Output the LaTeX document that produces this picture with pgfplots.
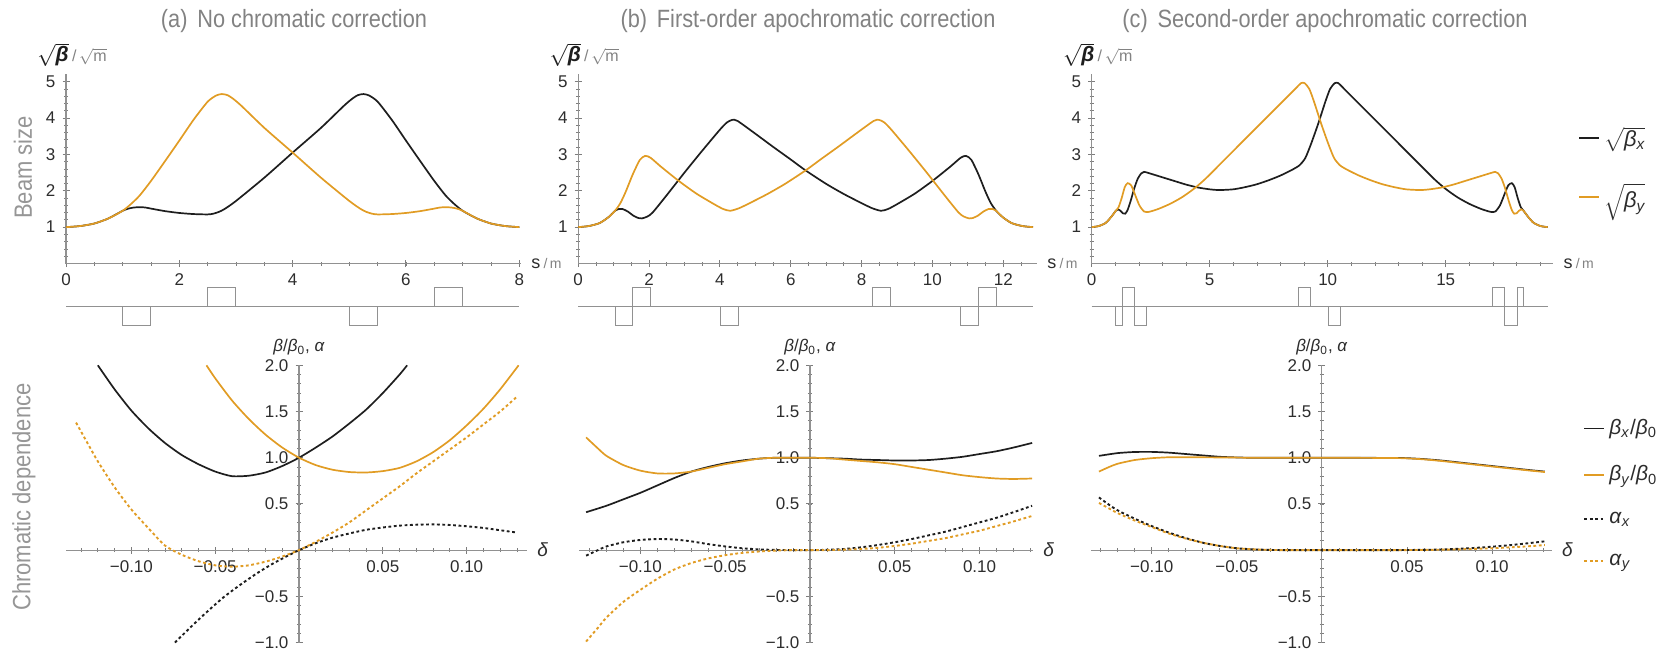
\documentclass[border=0pt]{standalone}
\usepackage{fontspec}
\setmainfont{Liberation Sans}
\usepackage{graphicx}
\usepackage{pgfplots}
\pgfplotsset{compat=1.18}
\definecolor{myorange}{RGB}{225,156,36}
\definecolor{myblack}{RGB}{30,30,30}
\definecolor{axgray}{RGB}{145,145,145}
\definecolor{tickgray}{RGB}{125,125,125}
\definecolor{titgray}{RGB}{130,130,130}
\definecolor{sidegray}{RGB}{150,150,150}
\definecolor{ticklab}{RGB}{45,45,45}
\newcommand\fs[1]{\fontsize{#1}{#1}\selectfont}
\pgfplotsset{
  common/.style={scale only axis, clip=false,
    axis line style={draw=axgray, line width=0.55pt},
    tick align=inside,
    major tick style={draw=tickgray, line width=0.5pt},
    minor tick style={draw=tickgray, line width=0.4pt},
    major tick length=3.5pt, minor tick length=2pt,
    ticklabel style={font=\fs{8.5}, text=ticklab},
    /pgf/number format/assume math mode=true},
  topax/.style={common, height=94.55pt, ymin=0, ymax=5.2, axis lines=left,
    x axis line style={-}, y axis line style={-},
    ytick={1,2,3,4,5}, minor ytick={0.2,0.4,...,5.0}},
  latax/.style={scale only axis, height=19.2pt, ymin=-1, ymax=1, hide axis, clip=false},
  botax/.style={common, height=138.6pt, ymin=-1, ymax=2, axis lines=middle,
    x axis line style={-}, y axis line style={-},
    xtick={-0.1,-0.05,0.05,0.1}, xticklabels={−0.10,−0.05,0.05,0.10},
    minor xtick={-0.13,-0.12,...,0.131},
    ytick={-1,-0.5,0.5,1,1.5,2}, yticklabels={−1.0,−0.5,0.5,1.0,1.5,2.0},
    minor ytick={-0.9,-0.8,...,1.95}},
  lat/.style={draw=axgray, line width=0.5pt, line join=miter},
  bx/.style={myblack, line width=0.85pt, smooth, tension=0.4},
  by/.style={myorange, line width=0.85pt, smooth, tension=0.4},
  ax/.style={myblack, line width=0.95pt, dash pattern=on 1.4pt off 1.3pt, smooth, tension=0.4},
  ay/.style={myorange, line width=0.95pt, dash pattern=on 1.4pt off 1.3pt, smooth, tension=0.4},
}
\newcommand\sqbeta{{\color{myblack}\fs{10.5}$\sqrt{\mbox{\bfseries\itshape β}}$}\,{\color{titgray}\fs{8}/\,$\sqrt{\mbox{m}}$}}
\newcommand\slabel{{\color{ticklab}\fs{9}s}\,{\color{titgray}\fs{7}/\,m}}
\newcommand\balabel{{\fs{8.5}\color{ticklab}\textit{β}/\textit{β}\textsubscript{0}, \textit{α}}}
\newcommand\dlabel{{\fs{9.5}\color{ticklab}\textit{δ}}}
\begin{document}
\begin{tikzpicture}
\path[use as bounding box] (0,0) rectangle (836pt,-325pt);
% titles
\node[text=titgray, font=\fs{12.5}] at (147pt,-10.5pt) {\scalebox{0.87}[1]{(a)\hspace{0.45em}No chromatic correction}};
\node[text=titgray, font=\fs{12.5}] at (404pt,-10.5pt) {\scalebox{0.87}[1]{(b)\hspace{0.45em}First-order apochromatic correction}};
\node[text=titgray, font=\fs{12.5}] at (662.5pt,-10.5pt) {\scalebox{0.87}[1]{(c)\hspace{0.45em}Second-order apochromatic correction}};
\node[rotate=90, text=sidegray, font=\fs{12.5}] at (11.5pt,-83.75pt) {\scalebox{0.88}[1]{Beam size}};
\node[rotate=90, text=sidegray, font=\fs{12.5}] at (12pt,-248.5pt) {\scalebox{0.88}[1]{Chromatic dependence}};

% ---------------- (a) top
\begin{axis}[topax, at={(33pt,-131.75pt)}, anchor=south west, width=227.5pt,
  xmin=0, xmax=8.03, xtick={0,2,4,6,8}, minor xtick={0.5,1,...,8}]
\addplot[bx] coordinates {(0,1.00) (0.25,1.03) (0.5,1.1) (0.75,1.24) (1.0,1.45) (1.1,1.51) (1.2,1.54) (1.3,1.55) (1.4,1.54) (1.5,1.51) (1.75,1.44) (2.0,1.39) (2.25,1.36) (2.5,1.35) (2.6,1.37) (2.7,1.42) (2.8,1.5) (3.0,1.72) (3.5,2.36) (4.0,3.05) (4.5,3.73) (4.9,4.33) (5.05,4.53) (5.15,4.63) (5.25,4.66) (5.35,4.62) (5.5,4.45) (5.75,3.95) (6.0,3.38) (6.25,2.82) (6.5,2.27) (6.7,1.87) (6.85,1.64) (7.0,1.45) (7.25,1.24) (7.5,1.1) (7.75,1.03) (8.0,1.00)};
\addplot[by] coordinates {(0,1.00) (0.25,1.03) (0.5,1.1) (0.75,1.24) (1.0,1.45) (1.15,1.64) (1.3,1.87) (1.5,2.27) (1.75,2.82) (2.0,3.38) (2.25,3.95) (2.5,4.45) (2.65,4.62) (2.75,4.66) (2.85,4.63) (2.95,4.53) (3.1,4.33) (3.5,3.73) (4.0,3.05) (4.5,2.36) (5.0,1.72) (5.2,1.5) (5.3,1.42) (5.4,1.37) (5.5,1.35) (5.75,1.36) (6.0,1.39) (6.25,1.44) (6.5,1.51) (6.6,1.54) (6.7,1.55) (6.8,1.54) (6.9,1.51) (7.0,1.45) (7.25,1.24) (7.5,1.1) (7.75,1.03) (8,1.0)};
\node[anchor=west, inner sep=0pt, xshift=-14.5pt, yshift=9.7pt] at (rel axis cs:0,1) {\sqbeta};
\node[anchor=west, inner sep=0pt, xshift=5pt] at (rel axis cs:1,0) {\slabel};
\end{axis}
\begin{axis}[latax, at={(33pt,-162.95pt)}, anchor=south west, width=227.5pt, xmin=0, xmax=8.03]
\addplot[lat] coordinates {(0,0) (8.0,0)};
\addplot[lat] coordinates {(1.0,0) (1.0,-1) (1.5,-1) (1.5,0) (2.5,0) (2.5,1) (3.0,1) (3.0,0) (5.0,0) (5.0,-1) (5.5,-1) (5.5,0) (6.5,0) (6.5,1) (7.0,1) (7.0,0)};
\end{axis}

% ---------------- (b) top
\begin{axis}[topax, at={(289.1pt,-131.75pt)}, anchor=south west, width=229.35pt,
  xmin=0, xmax=12.95, xtick={0,2,...,12}, minor xtick={0.5,1,...,12.5}]
\addplot[bx] coordinates {(0,1.00) (0.3,1.03) (0.6,1.11) (0.85,1.27) (1.04,1.45) (1.15,1.5) (1.25,1.5) (1.4,1.43) (1.55,1.32) (1.7,1.25) (1.8,1.24) (1.95,1.29) (2.1,1.4) (2.5,1.88) (3.0,2.5) (3.5,3.1) (4.0,3.68) (4.2,3.88) (4.35,3.95) (4.5,3.92) (5.0,3.57) (5.5,3.21) (6.0,2.86) (6.42,2.56) (7.0,2.19) (7.5,1.91) (8.0,1.66) (8.3,1.52) (8.55,1.45) (8.75,1.5) (9.0,1.63) (9.5,1.92) (10.0,2.27) (10.5,2.66) (10.8,2.91) (10.95,2.96) (11.1,2.85) (11.3,2.45) (11.5,1.97) (11.65,1.66) (11.8,1.45) (11.99,1.27) (12.24,1.11) (12.54,1.03) (12.84,1.00)};
\addplot[by] coordinates {(0,1.00) (0.3,1.03) (0.6,1.11) (0.85,1.27) (1.04,1.45) (1.19,1.66) (1.34,1.97) (1.54,2.45) (1.74,2.85) (1.89,2.96) (2.04,2.91) (2.34,2.66) (2.84,2.27) (3.34,1.92) (3.84,1.63) (4.09,1.5) (4.29,1.45) (4.54,1.52) (4.84,1.66) (5.34,1.91) (5.84,2.19) (6.42,2.56) (6.84,2.86) (7.34,3.21) (7.84,3.57) (8.34,3.92) (8.49,3.95) (8.64,3.88) (8.84,3.68) (9.34,3.1) (9.84,2.5) (10.34,1.88) (10.74,1.4) (10.89,1.29) (11.04,1.24) (11.14,1.25) (11.29,1.32) (11.44,1.43) (11.59,1.5) (11.69,1.5) (11.8,1.45) (11.99,1.27) (12.24,1.11) (12.54,1.03) (12.84,1.00)};
\node[anchor=west, inner sep=0pt, xshift=-14.5pt, yshift=9.7pt] at (rel axis cs:0,1) {\sqbeta};
\node[anchor=west, inner sep=0pt, xshift=5pt] at (rel axis cs:1,0) {\slabel};
\end{axis}
\begin{axis}[latax, at={(289.1pt,-162.95pt)}, anchor=south west, width=229.35pt, xmin=0, xmax=12.95]
\addplot[lat] coordinates {(0,0) (12.84,0)};
\addplot[lat] coordinates {(1.04,0) (1.04,-1) (1.54,-1) (1.54,1) (2.04,1) (2.04,0) (4.02,0) (4.02,-1) (4.52,-1) (4.52,0) (8.32,0) (8.32,1) (8.82,1) (8.82,0) (10.8,0) (10.8,-1) (11.3,-1) (11.3,1) (11.8,1) (11.8,0)};
\end{axis}

% ---------------- (c) top
\begin{axis}[topax, at={(545.85pt,-131.75pt)}, anchor=south west, width=230.7pt,
  xmin=0, xmax=19.55, xtick={0,5,10,15}, minor xtick={1,2,...,19},
  legend cell align=left,
  legend style={at={(1.054,0.5)}, anchor=west, draw=none, fill=none, font=\fs{11}, text=ticklab, row sep=13pt, inner sep=0pt},
  legend image code/.code={\draw[#1] (0pt,0pt) -- (10pt,0pt);}]
\addplot[bx] coordinates {(0,1.00) (0.3,1.03) (0.6,1.12) (0.85,1.3) (1.02,1.45) (1.12,1.49) (1.22,1.45) (1.32,1.38) (1.42,1.37) (1.52,1.47) (1.65,1.72) (1.8,2.06) (1.95,2.33) (2.1,2.48) (2.22,2.52) (2.4,2.49) (3.0,2.37) (3.5,2.27) (4.0,2.17) (4.5,2.09) (5.0,2.04) (5.4,2.02) (6.0,2.04) (6.5,2.1) (7.0,2.18) (7.5,2.29) (8.0,2.42) (8.5,2.58) (8.8,2.7) (9.05,2.9) (9.3,3.3) (9.6,3.85) (9.9,4.45) (10.1,4.8) (10.3,4.96) (10.45,4.96) (10.7,4.8) (11.5,4.28) (12.5,3.63) (13.5,2.98) (14.5,2.33) (15.0,2.05) (15.5,1.82) (16.0,1.64) (16.5,1.5) (16.9,1.42) (17.1,1.43) (17.3,1.6) (17.5,1.92) (17.65,2.15) (17.8,2.21) (17.92,2.1) (18.05,1.8) (18.18,1.55) (18.3,1.45) (18.47,1.3) (18.72,1.12) (19.02,1.03) (19.32,1.00)};
\addlegendentry{$\sqrt{\mbox{\itshape β\textsubscript{x}}}$}
\addplot[by] coordinates {(0,1.00) (0.3,1.03) (0.6,1.12) (0.85,1.3) (1.02,1.45) (1.14,1.55) (1.27,1.8) (1.40,2.1) (1.52,2.21) (1.67,2.15) (1.82,1.92) (2.02,1.6) (2.22,1.43) (2.42,1.42) (2.82,1.5) (3.32,1.64) (3.82,1.82) (4.32,2.05) (4.82,2.33) (5.82,2.98) (6.82,3.63) (7.82,4.28) (8.62,4.8) (8.87,4.96) (9.02,4.96) (9.22,4.8) (9.42,4.45) (9.72,3.85) (10.02,3.3) (10.27,2.9) (10.52,2.7) (10.82,2.58) (11.32,2.42) (11.82,2.29) (12.32,2.18) (12.82,2.1) (13.32,2.04) (13.92,2.02) (14.32,2.04) (14.82,2.09) (15.32,2.17) (15.82,2.27) (16.32,2.37) (16.92,2.49) (17.10,2.52) (17.22,2.48) (17.37,2.33) (17.52,2.06) (17.67,1.72) (17.80,1.47) (17.90,1.37) (18.00,1.38) (18.10,1.45) (18.20,1.49) (18.30,1.45) (18.47,1.3) (18.72,1.12) (19.02,1.03) (19.32,1.00)};
\addlegendentry{$\sqrt{\mbox{\itshape β\textsubscript{y}}}$}
\node[anchor=west, inner sep=0pt, xshift=-14.5pt, yshift=9.7pt] at (rel axis cs:0,1) {\sqbeta};
\node[anchor=west, inner sep=0pt, xshift=5pt] at (rel axis cs:1,0) {\slabel};
\end{axis}
\begin{axis}[latax, at={(545.85pt,-162.95pt)}, anchor=south west, width=230.7pt, xmin=0, xmax=19.55]
\addplot[lat] coordinates {(0,0) (19.32,0)};
\addplot[lat] coordinates {(1.02,0) (1.02,-1) (1.3,-1) (1.3,1) (1.81,1) (1.81,-1) (2.32,-1) (2.32,0) (8.78,0) (8.78,1) (9.28,1) (9.28,0) (10.04,0) (10.04,-1) (10.54,-1) (10.54,0) (17.0,0) (17.0,1) (17.51,1) (17.51,-1) (18.02,-1) (18.02,1) (18.3,1) (18.3,0)};
\end{axis}

% ---------------- (a) bottom
\begin{axis}[botax, at={(33pt,-321.25pt)}, anchor=south west, width=230.5pt, xmin=-0.139, xmax=0.136]
\addplot[bx] coordinates {(-0.12,2.0) (-0.11,1.74) (-0.10,1.51) (-0.09,1.32) (-0.08,1.16) (-0.07,1.03) (-0.06,0.93) (-0.05,0.85) (-0.04,0.80) (-0.03,0.805) (-0.02,0.84) (-0.01,0.91) (0,1.0) (0.01,1.11) (0.02,1.23) (0.03,1.37) (0.04,1.52) (0.05,1.7) (0.06,1.9) (0.0645,2.0)};
\addplot[by] coordinates {(-0.0552,2.0) (-0.05,1.86) (-0.04,1.62) (-0.03,1.42) (-0.02,1.25) (-0.01,1.11) (0,1.0) (0.01,0.92) (0.02,0.87) (0.03,0.845) (0.04,0.84) (0.05,0.855) (0.06,0.89) (0.07,0.96) (0.08,1.06) (0.09,1.19) (0.10,1.35) (0.11,1.53) (0.12,1.74) (0.131,2.0)};
\addplot[ax] coordinates {(-0.074,-1.0) (-0.065,-0.84) (-0.055,-0.67) (-0.045,-0.51) (-0.035,-0.375) (-0.025,-0.25) (-0.015,-0.14) (-0.005,-0.045) (0,0) (0.01,0.075) (0.02,0.135) (0.03,0.18) (0.04,0.22) (0.05,0.245) (0.06,0.265) (0.07,0.275) (0.08,0.278) (0.09,0.272) (0.10,0.258) (0.11,0.24) (0.12,0.215) (0.13,0.19)};
\addplot[ay] coordinates {(-0.133,1.38) (-0.125,1.12) (-0.12,0.96) (-0.11,0.68) (-0.10,0.44) (-0.09,0.24) (-0.08,0.05) (-0.07,-0.05) (-0.06,-0.12) (-0.05,-0.165) (-0.04,-0.18) (-0.03,-0.165) (-0.02,-0.125) (-0.01,-0.07) (0,0) (0.01,0.09) (0.02,0.19) (0.03,0.3) (0.04,0.43) (0.05,0.56) (0.06,0.69) (0.07,0.83) (0.08,0.96) (0.09,1.09) (0.10,1.22) (0.11,1.36) (0.12,1.5) (0.13,1.66)};
\node[inner sep=0pt, yshift=9pt] at (axis cs:0,2) {\balabel};
\node[anchor=west, inner sep=0pt, xshift=5pt] at (rel axis cs:1,0.3333) {\dlabel};
\end{axis}

% ---------------- (b) bottom
\begin{axis}[botax, at={(289.65pt,-321.25pt)}, anchor=south west, width=226.85pt, xmin=-0.136, xmax=0.1315]
\addplot[bx] coordinates {(-0.132,0.41) (-0.12,0.48) (-0.11,0.55) (-0.10,0.62) (-0.09,0.70) (-0.08,0.78) (-0.07,0.85) (-0.06,0.9) (-0.05,0.94) (-0.04,0.97) (-0.03,0.99) (-0.02,1.0) (-0.01,1.0) (0,1.0) (0.01,0.995) (0.02,0.99) (0.03,0.98) (0.04,0.975) (0.05,0.97) (0.06,0.97) (0.07,0.975) (0.08,0.99) (0.09,1.01) (0.10,1.04) (0.11,1.07) (0.12,1.11) (0.131,1.16)};
\addplot[by] coordinates {(-0.132,1.22) (-0.125,1.1) (-0.12,1.02) (-0.11,0.92) (-0.10,0.86) (-0.09,0.83) (-0.08,0.83) (-0.07,0.85) (-0.06,0.89) (-0.05,0.93) (-0.04,0.96) (-0.03,0.99) (-0.02,1.0) (-0.01,1.0) (0,1.0) (0.01,0.995) (0.02,0.98) (0.03,0.965) (0.04,0.95) (0.05,0.93) (0.06,0.9) (0.07,0.87) (0.08,0.84) (0.09,0.81) (0.10,0.79) (0.11,0.775) (0.12,0.77) (0.131,0.775)};
\addplot[ax] coordinates {(-0.132,-0.06) (-0.125,0.0) (-0.12,0.04) (-0.11,0.085) (-0.10,0.11) (-0.09,0.12) (-0.08,0.115) (-0.07,0.095) (-0.06,0.065) (-0.05,0.04) (-0.04,0.02) (-0.03,0.008) (-0.02,0.002) (-0.01,0) (0,0) (0.01,0.003) (0.02,0.012) (0.03,0.03) (0.04,0.055) (0.05,0.085) (0.06,0.12) (0.07,0.16) (0.08,0.2) (0.09,0.25) (0.10,0.3) (0.11,0.35) (0.12,0.41) (0.131,0.48)};
\addplot[ay] coordinates {(-0.132,-0.99) (-0.125,-0.84) (-0.12,-0.73) (-0.11,-0.56) (-0.10,-0.43) (-0.09,-0.31) (-0.08,-0.21) (-0.07,-0.14) (-0.06,-0.09) (-0.05,-0.055) (-0.04,-0.03) (-0.03,-0.015) (-0.02,-0.005) (-0.01,0) (0,0) (0.01,0.0) (0.02,0.005) (0.03,0.012) (0.04,0.025) (0.05,0.045) (0.06,0.07) (0.07,0.1) (0.08,0.13) (0.09,0.17) (0.10,0.21) (0.11,0.26) (0.12,0.31) (0.131,0.37)};
\node[inner sep=0pt, yshift=9pt] at (axis cs:0,2) {\balabel};
\node[anchor=west, inner sep=0pt, xshift=5pt] at (rel axis cs:1,0.3333) {\dlabel};
\end{axis}

% ---------------- (c) bottom
\begin{axis}[botax, at={(545.65pt,-321.25pt)}, anchor=south west, width=230.2pt, xmin=-0.1355, xmax=0.135,
  legend cell align=left,
  legend style={at={(1.068,0.536)}, anchor=west, draw=none, fill=none, font=\fs{10.5}, text=ticklab, row sep=10pt, inner sep=0pt},
  legend image code/.code={\draw[#1] (0pt,0pt) -- (10pt,0pt);}]
\addplot[bx] coordinates {(-0.131,1.02) (-0.12,1.05) (-0.11,1.062) (-0.10,1.063) (-0.09,1.055) (-0.08,1.04) (-0.07,1.025) (-0.06,1.01) (-0.05,1.003) (-0.04,1.0) (0,1.0) (0.04,0.998) (0.05,0.995) (0.06,0.985) (0.07,0.97) (0.08,0.95) (0.09,0.93) (0.10,0.91) (0.11,0.89) (0.12,0.87) (0.131,0.85)};
\addlegendentry{\textit{β}\textsubscript{\textit{x}}/\textit{β}\textsubscript{0}}
\addplot[by] coordinates {(-0.131,0.85) (-0.125,0.9) (-0.12,0.935) (-0.11,0.975) (-0.10,0.995) (-0.09,1.005) (-0.08,1.005) (-0.06,1.003) (-0.04,1.0) (0,1.0) (0.04,0.997) (0.05,0.993) (0.06,0.982) (0.07,0.965) (0.08,0.945) (0.09,0.925) (0.10,0.905) (0.11,0.885) (0.12,0.865) (0.131,0.845)};
\addlegendentry{\textit{β}\textsubscript{\textit{y}}/\textit{β}\textsubscript{0}}
\addplot[ax] coordinates {(-0.131,0.57) (-0.125,0.49) (-0.12,0.43) (-0.11,0.34) (-0.10,0.26) (-0.09,0.19) (-0.08,0.13) (-0.07,0.08) (-0.06,0.045) (-0.05,0.02) (-0.04,0.008) (-0.03,0.002) (-0.02,0) (0,0) (0.04,0) (0.06,0.003) (0.07,0.007) (0.08,0.014) (0.09,0.024) (0.10,0.037) (0.11,0.053) (0.12,0.072) (0.131,0.095)};
\addlegendentry{\textit{α}\textsubscript{\textit{x}}}
\addplot[ay] coordinates {(-0.131,0.51) (-0.125,0.45) (-0.12,0.4) (-0.11,0.32) (-0.10,0.25) (-0.09,0.18) (-0.08,0.125) (-0.07,0.08) (-0.06,0.045) (-0.05,0.02) (-0.04,0.008) (-0.03,0.002) (-0.02,0) (0,0) (0.04,0) (0.06,0.002) (0.08,0.008) (0.10,0.02) (0.12,0.04) (0.131,0.055)};
\addlegendentry{\textit{α}\textsubscript{\textit{y}}}
\node[inner sep=0pt, yshift=9pt] at (axis cs:0,2) {\balabel};
\node[anchor=west, inner sep=0pt, xshift=5pt] at (rel axis cs:1,0.3333) {\dlabel};
\end{axis}
\end{tikzpicture}
\end{document}
